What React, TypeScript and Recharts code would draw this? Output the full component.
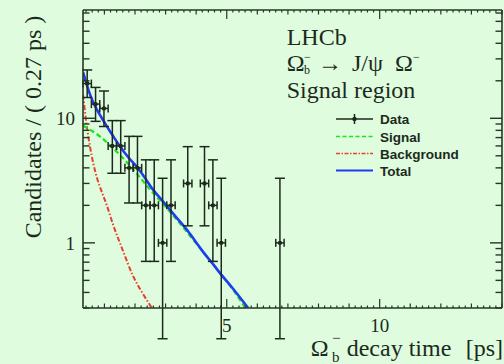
import { ComposedChart, Line, Scatter, ErrorBar, XAxis, YAxis } from "recharts";

// binned decay-time data (bins of ~0.27 ps starting at 0.3 ps)
const binCenters = [0.437, 0.711, 0.985, 1.259, 1.533, 1.807, 2.081, 2.355, 2.629, 2.903, 3.177, 3.725, 4.273, 4.547, 4.821, 6.739];
const counts = [19, 13, 12, 6, 6, 4, 4, 2, 2, 1, 2, 3, 3, 2, 1, 1];
const countLow = [14.68, 9.45, 8.59, 3.62, 3.62, 2.09, 2.09, 0.71, 0.71, 0.17, 0.71, 1.37, 1.37, 0.71, 0.17, 0.17];
const countHigh = [24.43, 17.69, 16.56, 9.58, 9.58, 7.16, 7.16, 4.64, 4.64, 3.3, 4.64, 5.92, 5.92, 4.64, 3.3, 3.3];
const binHalfWidth = 0.137;

// fit curves
const totalT = [0.3, 0.4, 0.5, 0.6, 0.75, 0.9, 1.07, 1.3, 1.5, 1.8, 2.05, 2.3, 2.55, 2.85, 3.13, 3.4, 3.68, 3.95, 4.22, 4.5, 4.76, 5.2, 5.7];
const totalV = [23.5, 19.5, 16.3, 14.0, 11.8, 10.2, 8.7, 7.1, 6.0, 4.8, 4.1, 3.4, 2.75, 2.25, 1.86, 1.55, 1.29, 1.05, 0.85, 0.7, 0.58, 0.43, 0.3];
const signalT = [0.3, 0.6, 0.9, 1.2, 1.5, 1.8, 2.1, 2.4, 2.7, 3.0, 3.5, 4.0, 4.5, 5.0, 5.3, 5.6];
const signalV = [8.7, 7.9, 7.0, 6.0, 5.1, 4.25, 3.5, 2.85, 2.35, 1.95, 1.4, 0.99, 0.7, 0.49, 0.39, 0.3];
const bkgT = [0.3, 0.34, 0.39, 0.45, 0.53, 0.64, 0.76, 0.9, 1.07, 1.28, 1.61, 1.94, 2.26, 2.55];
const bkgV = [15.5, 12.8, 10.0, 7.8, 5.9, 4.3, 3.3, 2.62, 2.03, 1.41, 0.86, 0.54, 0.39, 0.3];

const xLabels = [5, 10];
const yLabels = [1, 10];
const yTicks = [0.3, 0.4, 0.5, 0.6, 0.7, 0.8, 0.9, 1, 2, 3, 4, 5, 6, 7, 8, 9, 10, 20, 30, 40, 50, 60, 70];
const xTicks: number[] = [];
for (let i = 2; i <= 70; i++) xTicks.push(Math.round(i * 2) / 10);

const BG = "#dffcdf";
const AX = "#253825";
const INK = "#1c2a1c";

const points = binCenters.map((t, i) => ({
  t,
  v: counts[i],
  ey: [counts[i] - countLow[i], countHigh[i] - counts[i]],
  ex: binHalfWidth,
}));
const toXY = (ts: number[], vs: number[]) => ts.map((t, i) => ({ t, v: vs[i] }));

function xTickLen(v: number) {
  if (v % 5 === 0) return 9;
  if (Number.isInteger(v)) return 4.5;
  return 2.5;
}

function BottomTick({ x, y, payload }: any) {
  const v = payload.value;
  return (
    <g>
      <line x1={x} x2={x} y1={y} y2={y - xTickLen(v)} stroke={AX} strokeWidth={1.2} />
      {xLabels.includes(v) && (
        <text x={x} y={y + 24} textAnchor="middle" fontSize={19} fill={INK} fontFamily="'Liberation Serif', serif">
          {v}
        </text>
      )}
    </g>
  );
}

function TopTick({ x, y, payload }: any) {
  return <line x1={x} x2={x} y1={y} y2={y + xTickLen(payload.value)} stroke={AX} strokeWidth={1.2} />;
}

function LeftTick({ x, y, payload }: any) {
  const major = yLabels.includes(payload.value);
  return (
    <g>
      <line x1={x} x2={x + (major ? 12 : 6.5)} y1={y} y2={y} stroke={AX} strokeWidth={1.4} />
      {major && (
        <text x={x - 8} y={y + 7} textAnchor="end" fontSize={19} fill={INK} fontFamily="'Liberation Serif', serif">
          {payload.value}
        </text>
      )}
    </g>
  );
}

function RightTick({ x, y, payload }: any) {
  const major = yLabels.includes(payload.value);
  return <line x1={x} x2={x - (major ? 12 : 6.5)} y1={y} y2={y} stroke={AX} strokeWidth={1.4} />;
}

function Dot({ cx, cy }: any) {
  return <circle cx={cx} cy={cy} r={2.2} fill={INK} />;
}

export default function App() {
  const axisLine = { stroke: AX, strokeWidth: 1.6 };
  return (
    <div style={{ position: "absolute", left: 0, top: 0, width: 504, height: 364, background: BG, overflow: "hidden" }}>
      <ComposedChart width={504} height={364} margin={{ top: 0, right: 0, bottom: 0, left: 0 }}>
        <XAxis xAxisId="b" dataKey="t" type="number" domain={[0.3, 14]} allowDataOverflow ticks={xTicks} interval={0}
          height={56} tickSize={0} tickMargin={0} tickLine={false} axisLine={axisLine} tick={(p: any) => <BottomTick {...p} />} />
        <XAxis xAxisId="t" orientation="top" dataKey="t" type="number" domain={[0.3, 14]} allowDataOverflow ticks={xTicks} interval={0}
          height={10} tickSize={0} tickMargin={0} tickLine={false} axisLine={axisLine} tick={(p: any) => <TopTick {...p} />} />
        <YAxis yAxisId="l" dataKey="v" type="number" scale="log" domain={[0.3, 74]} allowDataOverflow ticks={yTicks} interval={0}
          width={83} tickSize={0} tickMargin={0} tickLine={false} axisLine={axisLine} tick={(p: any) => <LeftTick {...p} />} />
        <YAxis yAxisId="r" orientation="right" dataKey="v" type="number" scale="log" domain={[0.3, 74]} allowDataOverflow ticks={yTicks} interval={0}
          width={2} tickSize={0} tickMargin={0} tickLine={false} axisLine={axisLine} tick={(p: any) => <RightTick {...p} />} />

        <Line xAxisId="b" yAxisId="l" data={toXY(bkgT, bkgV)} dataKey="v" type="monotone" stroke="#e8402a" strokeWidth={2}
          strokeDasharray="5 2 1.5 2" dot={false} isAnimationActive={false} />
        <Line xAxisId="b" yAxisId="l" data={toXY(signalT, signalV)} dataKey="v" type="monotone" stroke="#19e619" strokeWidth={2.2}
          strokeDasharray="5 3" dot={false} isAnimationActive={false} />
        <Line xAxisId="b" yAxisId="l" data={toXY(totalT, totalV)} dataKey="v" type="monotone" stroke="#1f3cf0" strokeWidth={2.6}
          dot={false} isAnimationActive={false} />
        <Scatter xAxisId="b" yAxisId="l" data={points} dataKey="v" shape={(p: any) => <Dot {...p} />} isAnimationActive={false}>
          <ErrorBar dataKey="ey" direction="y" width={5} stroke={INK} strokeWidth={1.5} />
          <ErrorBar dataKey="ex" direction="x" width={4} stroke={INK} strokeWidth={1.5} />
        </Scatter>
      </ComposedChart>

      <svg width={504} height={364} style={{ position: "absolute", left: 0, top: 0, pointerEvents: "none" }}>
        <g fontFamily="'Liberation Serif', serif" fill={INK}>
          <text x={41} y={127} fontSize={24} textAnchor="middle" transform="rotate(-90 41 127)">
            Candidates / ( 0.27 ps )
          </text>

          <text x={310.7} y={356} fontSize={24}>Ω</text>
          <text x={332} y={362} fontSize={15}>b</text>
          <text x={332} y={343} fontSize={15}>−</text>
          <text x={346.7} y={356} fontSize={24}>decay time</text>
          <text x={503} y={356} fontSize={24} textAnchor="end">[ps]</text>

          <text x={286.7} y={45} fontSize={24}>LHCb</text>
          <text x={286.7} y={71} fontSize={24}>Ω</text>
          <text x={304} y={73.5} fontSize={12}>b</text>
          <text x={304} y={61} fontSize={12}>−</text>
          <text x={318} y={71} fontSize={24}>→</text>
          <text x={352} y={71} fontSize={24}>J/ψ</text>
          <text x={395} y={71} fontSize={24}>Ω</text>
          <text x={413} y={61} fontSize={12}>−</text>
          <text x={286.7} y={97.5} fontSize={24}>Signal region</text>
        </g>

        <g>
          <line x1={336} x2={373} y1={119} y2={119} stroke={INK} strokeWidth={1.5} />
          <line x1={354.5} x2={354.5} y1={114} y2={124} stroke={INK} strokeWidth={1.5} />
          <circle cx={354.5} cy={119} r={2.2} fill={INK} />
          <line x1={336} x2={373} y1={136.5} y2={136.5} stroke="#19e619" strokeWidth={1.6} strokeDasharray="4 2.5" />
          <line x1={336} x2={373} y1={153.5} y2={153.5} stroke="#e8402a" strokeWidth={1.6} strokeDasharray="4 1.5 1.5 1.5" />
          <line x1={336} x2={373} y1={170.5} y2={170.5} stroke="#1f3cf0" strokeWidth={1.8} />
          <g fontFamily="'Liberation Sans', Arial, sans-serif" fontWeight="bold" fontSize={13.5} fill={INK}>
            <text x={380} y={124}>Data</text>
            <text x={380} y={141.5}>Signal</text>
            <text x={380} y={158.5}>Background</text>
            <text x={380} y={175.5}>Total</text>
          </g>
        </g>
      </svg>
    </div>
  );
}
